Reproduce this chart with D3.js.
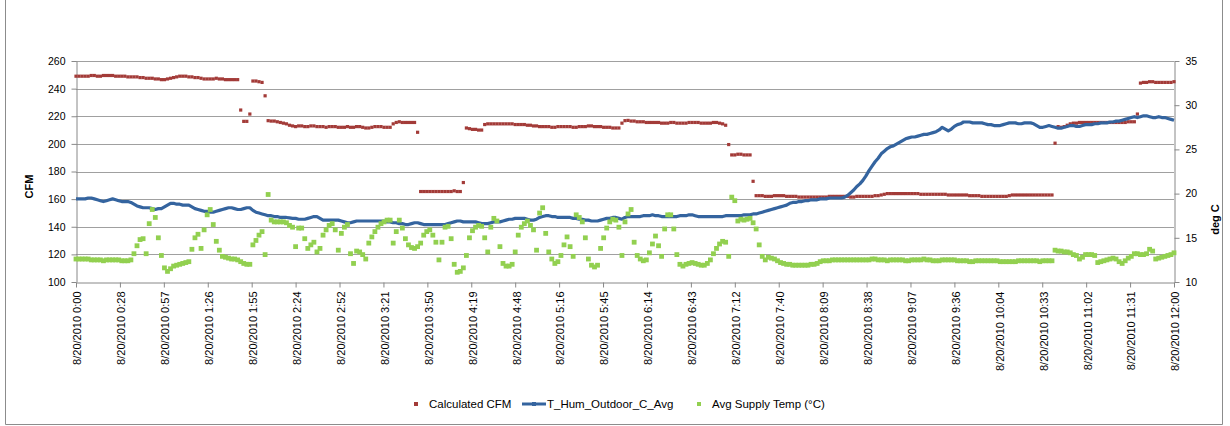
<!DOCTYPE html>
<html><head><meta charset="utf-8">
<script src="https://cdn.jsdelivr.net/npm/d3@7/dist/d3.min.js"></script>
<style>
body{margin:0;background:#fff}
svg text{font-family:"Liberation Sans",Arial,sans-serif;fill:#000}
</style>
</head><body>
<svg id="chart" width="1230" height="426"></svg>
<script>
// one sample every 2 minutes, 8/20/2010 0:00 .. 12:00
const stepMinutes = 2;

const calculatedCFM = [
249,249,249,249,249,249.5,249.5,249,249,249.5,
249.5,249.5,249.5,249,249,249,249,248.5,248.5,248.5,
248.5,248,248,247.5,247.5,247.5,247,247,246.5,246.5,
247,247.5,248,248.5,249,249,249,248.5,248.5,248,
248,247.5,247,247,247,247,247.5,247,247,246.5,
246.5,246.5,246.5,246.5,224.5,216.3,216.3,221.6,245.5,245.5,
245,244.5,234.8,216.8,216.5,216.5,216,215.5,215,214.5,
213.5,213,212.5,213,213,212.5,212.5,213,213,212.5,
212.5,212.5,212,212.5,212.5,212.5,212,212,212,212.5,
212,212,212.5,212.5,212,211.5,211.5,212,212.5,212.5,
212.5,212,212,212,214.5,215.5,216,215.5,215.5,215.5,
215.5,215.5,208.4,165.5,165.5,165.5,165.5,165.5,165.5,165.5,
165.5,165.5,165.5,165.5,166,165.5,165.5,172,211.5,211,
210.5,210.5,210,210,214,214.5,214.5,214.5,214.5,214.5,
214.5,214.5,214.5,214.5,214,214,214,214,213.5,213.5,
213,213,212.5,212.5,212.5,212.5,212,212,212.5,212.5,
212.5,212.5,212.5,212,212,212.5,212.5,212.5,213,213,
212.5,212.5,212.5,212,212,212,211.5,211.5,211.5,215,
216.8,217,216.5,216.5,216,216,216,215.5,215.5,215.5,
215.5,215.5,215,215,215,215.5,215.5,215,215,215,
215,215.5,215.5,215.5,215.5,215,215,215,215,215.5,
215.5,215,214.5,213.5,199.5,192,192,192.5,192.5,192,
192,192,172.9,162.5,162.5,162.5,162,162,162,162.5,
162.5,162.5,162.5,162,162,162,162,161.5,161.5,161.5,
161.5,161.5,161.5,161.5,161.5,161.5,161.5,162,162,162,
162,162,162,162,161.5,161.5,162,162,162,162,
162,162,162.5,162.5,163,163.5,164,164,164,164,
164,164,164,164,164,164,164,163.5,163.5,163.5,
163.5,163.5,163.5,163.5,163.5,163.5,163,163,163,163,
163,163,163,162.5,162.5,162.5,162.5,162,162,162,
162,162,162,162,162,162,162.5,163,163,163,
163,163,163,163,163,163,163,163,163,163,
163,200.5,212.5,212,212.5,213.5,214.5,215,215,215.5,
215.5,215.5,215.5,215.5,215.5,215.5,215.5,215.5,215.5,215.5,
215.5,215.5,215.5,215.5,215.5,216,216,216,221.6,244,
244.5,244.5,245,245,244.5,244.5,244.5,244.5,244.5,244.5,
245
];

const outdoorTempC = [
19.4,19.4,19.4,19.4,19.5,19.5,19.4,19.3,19.2,19.1,
19.2,19.3,19.4,19.3,19.2,19.1,19.1,19.1,19.0,18.8,
18.6,18.5,18.4,18.4,18.4,18.3,18.2,18.3,18.3,18.5,
18.7,18.9,18.9,18.8,18.8,18.7,18.7,18.7,18.5,18.3,
18.2,18.1,18.0,18.0,17.9,17.9,18.0,18.1,18.2,18.3,
18.4,18.4,18.3,18.2,18.2,18.3,18.4,18.4,18.1,17.9,
17.8,17.7,17.6,17.5,17.5,17.4,17.4,17.3,17.3,17.3,
17.25,17.2,17.2,17.1,17.1,17.1,17.2,17.3,17.4,17.4,
17.2,17.0,17.0,17.0,17.0,17.0,17.0,16.9,16.8,16.7,
16.7,16.8,16.9,16.9,16.9,16.9,16.9,16.9,16.9,16.9,
16.9,16.9,16.8,16.8,16.7,16.7,16.6,16.6,16.5,16.5,
16.6,16.7,16.7,16.6,16.5,16.5,16.5,16.5,16.5,16.5,
16.5,16.5,16.6,16.7,16.8,16.9,16.9,16.8,16.8,16.8,
16.8,16.8,16.7,16.6,16.6,16.6,16.7,16.8,16.8,16.8,
16.9,17.0,17.1,17.1,17.2,17.2,17.2,17.2,17.1,17.0,
17.0,17.1,17.3,17.4,17.5,17.5,17.4,17.4,17.3,17.3,
17.3,17.3,17.3,17.2,17.2,17.1,17.1,17.0,17.0,16.9,
16.9,16.9,17.0,17.1,17.2,17.2,17.3,17.3,17.2,17.1,
17.3,17.4,17.4,17.4,17.4,17.4,17.5,17.5,17.5,17.6,
17.5,17.5,17.4,17.4,17.4,17.4,17.4,17.4,17.5,17.5,
17.5,17.6,17.6,17.5,17.4,17.4,17.4,17.4,17.4,17.4,
17.4,17.4,17.4,17.5,17.5,17.5,17.5,17.5,17.5,17.6,
17.6,17.6,17.7,17.7,17.8,17.9,18.0,18.1,18.2,18.3,
18.4,18.5,18.6,18.7,18.9,19.0,19.0,19.1,19.1,19.2,
19.2,19.3,19.3,19.3,19.4,19.4,19.4,19.5,19.5,19.5,
19.5,19.5,19.6,19.8,20.1,20.4,20.8,21.1,21.5,22.0,
22.6,23.1,23.6,24.0,24.5,24.8,25.1,25.3,25.4,25.6,
25.8,26.0,26.2,26.3,26.4,26.4,26.5,26.6,26.7,26.7,
26.8,26.9,27.0,27.2,27.5,27.3,27.1,27.3,27.6,27.8,
27.9,28.1,28.1,28.1,28.0,28.0,28.0,28.0,27.9,27.8,
27.8,27.7,27.7,27.7,27.8,27.9,28.0,28.0,28.0,27.9,
27.9,28.0,28.0,28.0,27.9,27.7,27.5,27.5,27.6,27.7,
27.6,27.5,27.4,27.4,27.5,27.6,27.7,27.7,27.6,27.6,
27.7,27.8,27.8,27.8,27.9,27.9,28.0,28.0,28.0,28.1,
28.1,28.2,28.2,28.3,28.4,28.5,28.6,28.7,28.6,28.7,
28.8,28.8,28.7,28.6,28.6,28.7,28.6,28.6,28.5,28.4,
28.3
];

const supplyTempC = [
12.6,12.6,12.6,12.6,12.6,12.5,12.5,12.5,12.5,12.4,
12.5,12.5,12.5,12.5,12.5,12.4,12.4,12.4,12.5,13.2,
14.1,14.8,14.9,13.2,16.6,18.2,17.3,15.0,13.0,11.6,
11.2,11.5,11.8,11.9,12.0,12.1,12.2,12.3,13.7,15.0,
15.4,13.8,15.9,17.6,18.2,16.5,14.6,13.6,12.9,12.8,
12.7,12.6,12.6,12.5,12.3,12.1,12.0,12.0,14.2,14.7,
15.3,15.7,13.1,19.9,17.0,16.8,16.8,16.8,16.8,16.7,
16.4,16.2,14.0,16.1,16.1,14.9,13.8,14.2,14.5,13.4,
13.8,15.3,15.9,16.4,16.6,15.9,13.6,15.5,16.2,16.5,
13.2,12.1,13.5,13.4,13.1,12.6,14.4,15.1,15.7,16.2,
16.6,16.8,17.0,17.0,14.4,15.7,17.0,16.1,14.9,14.2,
13.9,13.8,14.0,14.4,15.3,15.7,15.9,15.3,14.5,12.5,
14.5,16.2,16.3,14.9,12.0,11.1,11.2,11.6,13.0,15.0,
15.8,16.2,16.4,16.3,15.0,13.4,16.2,17.2,16.9,14.0,
12.1,11.8,11.8,12.0,13.4,15.3,16.2,16.6,16.9,16.4,
15.9,13.6,17.8,18.4,15.5,13.4,12.6,12.1,12.3,13.0,
14.2,15.1,14.0,12.9,17.6,17.3,16.8,15.0,12.6,11.9,
11.7,11.9,13.8,15.0,16.1,16.8,17.1,17.0,16.2,13.0,
16.8,17.7,18.2,14.5,13.0,12.6,12.4,12.5,13.3,14.3,
15.2,14.1,12.9,16.0,17.6,17.6,16.0,13.1,12.0,11.8,
12.0,12.1,12.2,12.1,12.0,11.9,11.9,12.1,12.5,13.2,
13.8,14.3,14.6,14.5,12.9,19.6,19.2,16.9,17.1,17.0,
17.1,17.2,16.7,16.0,14.2,12.9,12.5,12.8,12.7,12.6,
12.4,12.2,12.1,12.0,12.0,11.9,11.9,11.9,11.9,11.9,
11.9,12.0,12.0,12.1,12.3,12.4,12.4,12.4,12.5,12.5,
12.5,12.5,12.5,12.5,12.5,12.5,12.5,12.5,12.5,12.5,
12.5,12.6,12.6,12.5,12.5,12.5,12.4,12.5,12.5,12.5,
12.5,12.5,12.4,12.4,12.5,12.5,12.5,12.5,12.6,12.5,
12.5,12.4,12.4,12.4,12.5,12.5,12.5,12.5,12.5,12.4,
12.4,12.4,12.4,12.3,12.3,12.4,12.4,12.4,12.4,12.4,
12.4,12.4,12.4,12.3,12.3,12.3,12.3,12.3,12.3,12.4,
12.4,12.4,12.4,12.4,12.4,12.4,12.3,12.4,12.4,12.4,
12.4,13.6,13.5,13.5,13.4,13.4,13.3,13.1,13.0,12.6,
12.8,13.1,13.1,13.1,13.0,12.2,12.3,12.4,12.5,12.6,
12.7,12.6,12.3,12.1,12.4,12.7,12.9,13.2,13.2,13.1,
13.1,13.2,13.7,13.5,12.6,12.7,12.8,12.9,13.0,13.1,
13.3
];

const xTickLabels = ["8/20/2010 0:00","8/20/2010 0:28","8/20/2010 0:57","8/20/2010 1:26","8/20/2010 1:55",
"8/20/2010 2:24","8/20/2010 2:52","8/20/2010 3:21","8/20/2010 3:50","8/20/2010 4:19","8/20/2010 4:48",
"8/20/2010 5:16","8/20/2010 5:45","8/20/2010 6:14","8/20/2010 6:43","8/20/2010 7:12","8/20/2010 7:40",
"8/20/2010 8:09","8/20/2010 8:38","8/20/2010 9:07","8/20/2010 9:36","8/20/2010 10:04","8/20/2010 10:33",
"8/20/2010 11:02","8/20/2010 11:31","8/20/2010 12:00"];
const cfmTicks = [100,120,140,160,180,200,220,240,260];
const tempTicks = [10,15,20,25,30,35];
const seriesNames = ["Calculated CFM","T_Hum_Outdoor_C_Avg","Avg Supply Temp (\u00B0C)"];
const colors = {cfm:"#a33b38", outdoor:"#34649f", supply:"#92d050", grid:"#a0a0a0", axis:"#888888"};

(function(){
const svg = d3.select("#chart");
const pLeft = 76, pRight = 1174, pTop = 61, pBottom = 282;
const totalMinutes = (calculatedCFM.length - 1) * stepMinutes;

const x = d3.scaleLinear().domain([0, totalMinutes]).range([pLeft, pRight]);
const yL = d3.scaleLinear().domain([100, 260]).range([pBottom, pTop]);
const yR = d3.scaleLinear().domain([10, 35]).range([pBottom, pTop]);

// outer frame (left, right, bottom edges)
svg.append("path").attr("d","M5.5,0V424.5H1222.5V0")
  .attr("fill","none").attr("stroke","#8c8c8c").attr("stroke-width",1);

svg.append("g").selectAll("line").data(cfmTicks.slice(1)).join("line")
  .attr("x1",pLeft).attr("x2",pRight)
  .attr("y1",d=>Math.round(yL(d))+0.5).attr("y2",d=>Math.round(yL(d))+0.5)
  .attr("stroke",colors.grid).attr("stroke-width",1);

const axL = svg.append("g").attr("transform",`translate(${pLeft+0.5},0)`)
  .call(d3.axisLeft(yL).tickValues(cfmTicks).tickSize(5).tickPadding(6).tickSizeOuter(0));
const axR = svg.append("g").attr("transform",`translate(${pRight+0.5},0)`)
  .call(d3.axisRight(yR).tickValues(tempTicks).tickSize(5).tickPadding(6).tickSizeOuter(0));
const xTickValues = xTickLabels.map((_,i)=> i*totalMinutes/(xTickLabels.length-1));
const axB = svg.append("g").attr("transform",`translate(0,${pBottom+0.5})`)
  .call(d3.axisBottom(x).tickValues(xTickValues).tickFormat((d,i)=>xTickLabels[i]).tickSize(5).tickSizeOuter(0));

[axL,axR,axB].forEach(a=>{
  a.selectAll("path,line").attr("stroke",colors.axis);
  a.selectAll("text").style("font-size","10.5px").attr("fill","#000");
});
axB.selectAll("text").attr("transform","rotate(-90)").attr("text-anchor","end")
  .attr("x",-9).attr("y",1).attr("dy","0.35em").style("font-size","11px");

svg.append("text").attr("transform",`translate(33,${(pTop+pBottom)/2+15}) rotate(-90)`)
  .attr("text-anchor","middle").style("font-size","11px").style("font-weight","bold").text("CFM");
svg.append("text").attr("transform",`translate(1219,${(pTop+pBottom)/2+48}) rotate(-90)`)
  .attr("text-anchor","middle").style("font-size","11px").style("font-weight","bold").text("deg C");

const idx = d3.range(calculatedCFM.length);
svg.append("g").selectAll("rect").data(idx).join("rect")
  .attr("x",i=>x(i*stepMinutes)-1.6).attr("y",i=>yL(calculatedCFM[i])-1.6)
  .attr("width",3.2).attr("height",3.2).attr("fill",colors.cfm);
svg.append("path").datum(idx)
  .attr("d",d3.line().x(i=>x(i*stepMinutes)).y(i=>yR(outdoorTempC[i])))
  .attr("fill","none").attr("stroke",colors.outdoor).attr("stroke-width",3.2).attr("stroke-linejoin","round");
svg.append("g").selectAll("rect").data(idx).join("rect")
  .attr("x",i=>x(i*stepMinutes)-2.4).attr("y",i=>yR(supplyTempC[i])-2.4)
  .attr("width",4.8).attr("height",4.8).attr("fill",colors.supply);

const lg = svg.append("g").attr("transform","translate(0,404)");
lg.append("rect").attr("x",414).attr("y",-2).attr("width",4).attr("height",4).attr("fill",colors.cfm);
lg.append("text").attr("x",429).attr("y",0).attr("dy","0.35em").style("font-size","11.5px").text(seriesNames[0]);
lg.append("line").attr("x1",522).attr("x2",546).attr("y1",0).attr("y2",0).attr("stroke",colors.outdoor).attr("stroke-width",3);
lg.append("rect").attr("x",532).attr("y",-2).attr("width",4).attr("height",4).attr("fill",colors.outdoor);
lg.append("text").attr("x",547).attr("y",0).attr("dy","0.35em").style("font-size","11.5px").text(seriesNames[1]);
lg.append("rect").attr("x",697).attr("y",-2).attr("width",4).attr("height",4).attr("fill",colors.supply);
lg.append("text").attr("x",712).attr("y",0).attr("dy","0.35em").style("font-size","11.5px").text(seriesNames[2]);
})();
</script>
</body></html>
